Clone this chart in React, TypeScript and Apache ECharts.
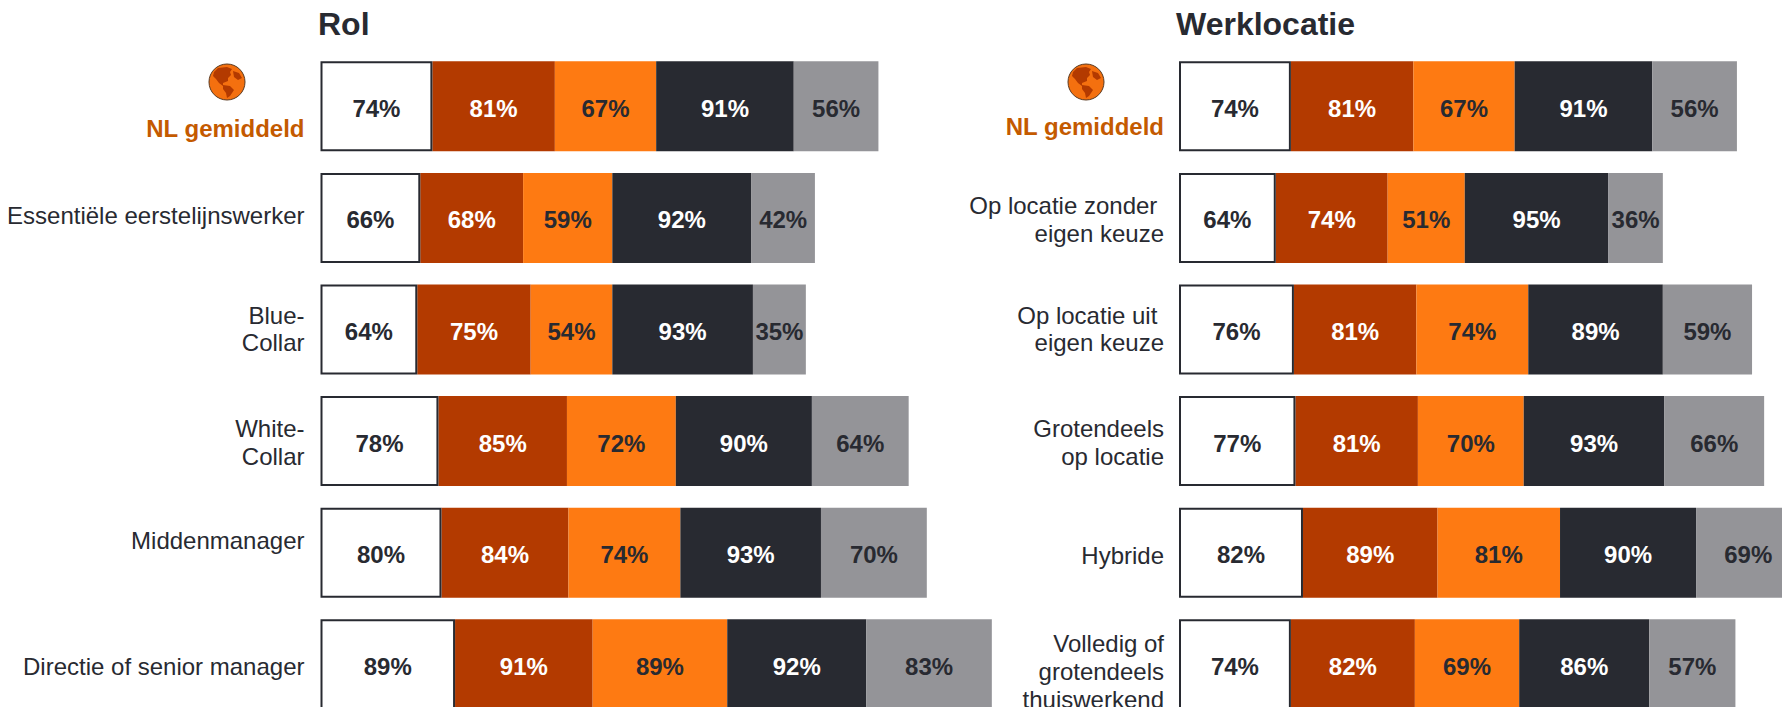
import React, { useEffect, useRef } from "react";
import * as echarts from "echarts";

const rolCategories = ["NL gemiddeld", "Essentiële eerstelijnswerker", "Blue-\nCollar", "White-\nCollar", "Middenmanager", "Directie of senior manager"];
const rolA = [74, 66, 64, 78, 80, 89];
const rolB = [81, 68, 75, 85, 84, 91];
const rolC = [67, 59, 54, 72, 74, 89];
const rolD = [91, 92, 93, 90, 93, 92];
const rolE = [56, 42, 35, 64, 70, 83];

const locCategories = ["NL gemiddeld", "Op locatie zonder \neigen keuze", "Op locatie uit \neigen keuze", "Grotendeels\nop locatie", "Hybride", "Volledig of\ngrotendeels\nthuiswerkend"];
const locA = [74, 64, 76, 77, 82, 74];
const locB = [81, 74, 81, 81, 89, 82];
const locC = [67, 51, 74, 70, 81, 69];
const locD = [91, 95, 89, 93, 90, 86];
const locE = [56, 36, 59, 66, 69, 57];

const rolShift = [22, -2, -1, 1, -12, 2];
const locShift = [20, 2, -1, 1, 3, 7];

const DARK = "#282A31";
const RUST = "#B33A00";
const ORANGE = "#FE7A12";
const GREY = "#949498";
const FONT = "'Liberation Sans', Arial, sans-serif";

const CONTINENTS =
  "M9 4 L18 3 L23 5 L21 8 L22 11 L19 14 L19 17 L14 19 L14 22 L10 19 L7 15 L4 12 L5 8 Z " +
  "M14 21 L21 22 L25 26 L21 32 L18 34 L17 29 L14 25 Z " +
  "M24 7 L30 9 L33 14 L29 16 L25 13 Z";
echarts.graphic.registerShape("globeLand", echarts.graphic.extendPath(CONTINENTS, {}) as any);

function globe(cx: number, cy: number) {
  return {
    type: "group",
    x: cx,
    y: cy,
    children: [
      { type: "ellipse", shape: { cx: 0, cy: 0, rx: 18, ry: 18 }, style: { fill: "#F4700F", stroke: "#5a3a22", lineWidth: 1 } },
      { type: "globeLand", x: -18, y: -18, style: { fill: RUST } },
    ],
  };
}

function richFor(shifts: number[]) {
  const rich: Record<string, any> = {
    n: { color: DARK, fontFamily: FONT, fontSize: 24, lineHeight: 28 },
  };
  shifts.forEach((s, i) => {
    rich["r" + i] = {
      color: i === 0 ? "#C45A00" : DARK,
      fontWeight: i === 0 ? "bold" : "normal",
      fontFamily: FONT,
      fontSize: 24,
      lineHeight: 28,
      padding: s > 0 ? [2 * s, 0, 0, 0] : [0, 0, -2 * s, 0],
    };
    rich["sp" + i] = { fontSize: 1, lineHeight: Math.max(2 * s, 1) };
  });
  return rich;
}

function labelFormatter(shifts: number[]) {
  return (value: string, index: number) => {
    const lines = value.split("\n");
    const s = shifts[index];
    if (lines.length > 1 && s > 0) {
      return [`{sp${index}| }`, ...lines.map((l) => `{n|${l}}`)].join("\n");
    }
    const target = s > 0 ? 0 : lines.length - 1;
    return lines.map((l, i) => `{${i === target ? "r" + index : "n"}|${l}}`).join("\n");
  };
}

function seriesFor(idx: number, arrs: number[][]) {
  const fills = ["#FFFFFF", RUST, ORANGE, DARK, GREY];
  const labels = [DARK, "#FFFFFF", DARK, "#FFFFFF", DARK];
  return arrs.map((d, i) => ({
    type: "bar",
    stack: "s" + idx,
    xAxisIndex: idx,
    yAxisIndex: idx,
    data: d,
    barWidth: 90,
    z: i === 0 ? 3 : 2,
    itemStyle: i === 0 ? { color: fills[i], borderColor: DARK, borderWidth: 2 } : { color: fills[i] },
    label: {
      show: true,
      position: "inside",
      offset: [0, 2],
      formatter: "{c}%",
      color: labels[i],
      fontFamily: FONT,
      fontWeight: "bold",
      fontSize: 24,
    },
  }));
}

export default function App() {
  const ref = useRef<HTMLDivElement>(null);
  useEffect(() => {
    document.body.style.margin = "0";
    document.body.style.overflow = "hidden";
    const chart = echarts.init(ref.current!, null, { renderer: "svg" });
    const grid = (left: number) => ({ left, top: 50.5, width: 756, height: 669.6 });
    const xAxis = (gridIndex: number) => ({ type: "value", gridIndex, min: 0, max: 500, show: false });
    const yAxis = (gridIndex: number, cats: string[], shifts: number[], margin: number) => ({
      type: "category",
      gridIndex,
      inverse: true,
      data: cats,
      axisLine: { show: false },
      axisTick: { show: false },
      axisLabel: {
        margin,
        interval: 0,
        align: "right",
        formatter: labelFormatter(shifts),
        rich: richFor(shifts),
      },
    });
    chart.setOption({
      animation: false,
      backgroundColor: "#FFFFFF",
      title: [
        { text: "Rol", left: 313, top: 3, textStyle: { fontFamily: FONT, fontWeight: "bold", fontSize: 32, color: DARK } },
        { text: "Werklocatie", left: 1171, top: 3, textStyle: { fontFamily: FONT, fontWeight: "bold", fontSize: 32, color: DARK } },
      ],
      grid: [grid(320.5), grid(1179)],
      xAxis: [xAxis(0), xAxis(1)],
      yAxis: [yAxis(0, rolCategories, rolShift, 16), yAxis(1, locCategories, locShift, 15)],
      series: [
        ...seriesFor(0, [rolA, rolB, rolC, rolD, rolE]),
        ...seriesFor(1, [locA, locB, locC, locD, locE]),
      ],
      graphic: [globe(227, 82), globe(1086, 82)],
    });
    return () => chart.dispose();
  }, []);
  return (
    <div style={{ width: 1782, height: 707, overflow: "hidden", position: "relative" }}>
      <div ref={ref} style={{ width: 2000, height: 800 }} />
    </div>
  );
}
